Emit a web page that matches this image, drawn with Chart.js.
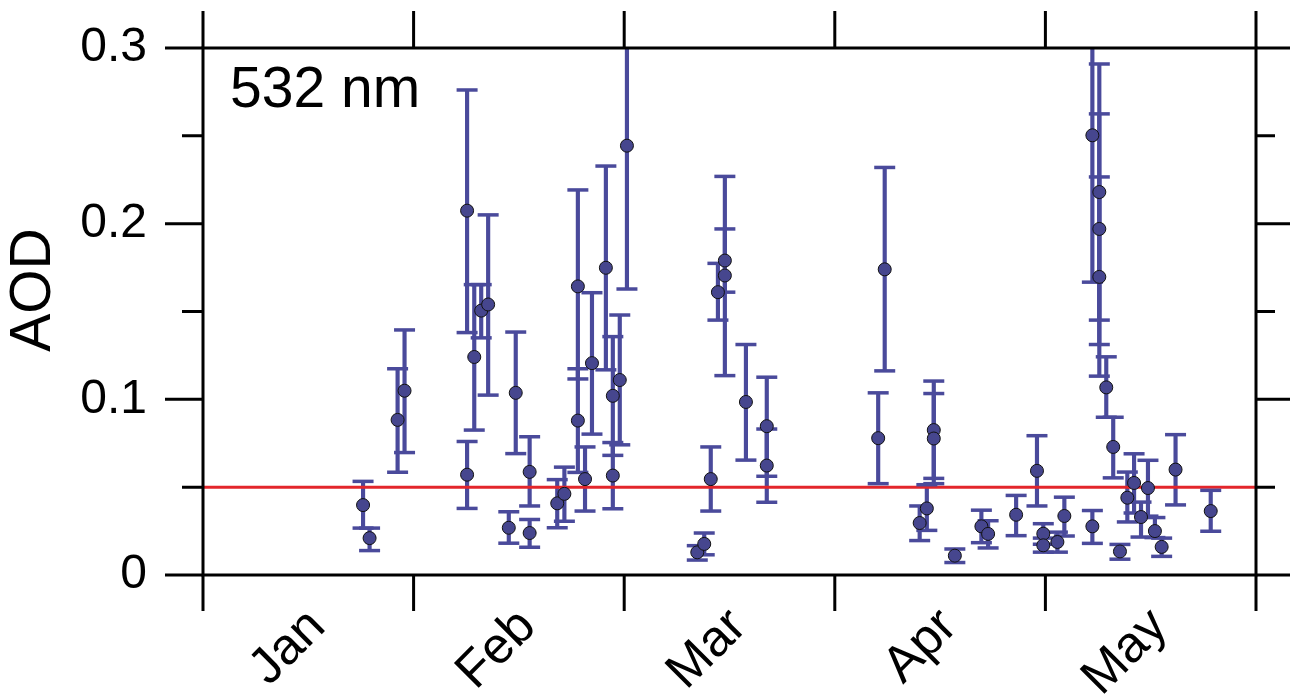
<!DOCTYPE html>
<html>
<head>
<meta charset="utf-8">
<script src="https://cdn.jsdelivr.net/npm/chart.js@4.4.0/dist/chart.umd.min.js"></script>
<style>
  html, body { margin: 0; padding: 0; background: #fff; }
  #wrap { width: 1290px; height: 698px; position: relative; }
</style>
</head>
<body>
<div id="wrap"><canvas id="myChart" width="1290" height="698"></canvas></div>
<script>
// month axis: 0 = start of Jan, 5 = end of May
var monthNames = ['Jan', 'Feb', 'Mar', 'Apr', 'May'];
var monthPos = [0.5, 1.5, 2.5, 3.5, 4.5];
var monthEdges = [0, 1, 2, 3, 4, 5];
var yMajor = [0, 0.1, 0.2, 0.3];
var yMinor = [0.05, 0.15, 0.25];
var refLevel = 0.05;

// observations (time in months, AOD and its error bar ends)
var obsTime = [0.760, 0.791, 0.924, 0.957, 1.254, 1.254, 1.288, 1.321, 1.354, 1.452,
               1.485, 1.551, 1.551, 1.682, 1.716, 1.780, 1.780, 1.814, 1.847, 1.913,
               1.946, 1.946, 1.979, 2.013, 2.347, 2.380, 2.411, 2.445, 2.478, 2.478,
               2.578, 2.677, 2.677, 3.206, 3.237, 3.403, 3.437, 3.470, 3.470, 3.570,
               3.696, 3.728, 3.861, 3.960, 3.990, 3.990, 4.057, 4.090, 4.223, 4.223,
               4.256, 4.256, 4.256, 4.289, 4.322, 4.354, 4.389, 4.421, 4.454, 4.487,
               4.520, 4.552, 4.618, 4.785];
var aod = [0.0398, 0.0210, 0.0883, 0.1049, 0.2074, 0.0571, 0.1241, 0.1505, 0.1540, 0.0269,
           0.1037, 0.0587, 0.0239, 0.0408, 0.0462, 0.1643, 0.0879, 0.0546, 0.1206, 0.1749,
           0.1020, 0.0566, 0.1110, 0.2444, 0.0129, 0.0177, 0.0546, 0.1610, 0.1790, 0.1705,
           0.0985, 0.0847, 0.0623, 0.0779, 0.1740, 0.0296, 0.0379, 0.0825, 0.0777, 0.0110,
           0.0277, 0.0234, 0.0343, 0.0593, 0.0235, 0.0169, 0.0188, 0.0336, 0.0277, 0.2503,
           0.2180, 0.1970, 0.1697, 0.1068, 0.0729, 0.0134, 0.0440, 0.0524, 0.0330, 0.0495,
           0.0250, 0.0160, 0.0600, 0.0364];
var aodLow = [0.0267, 0.0139, 0.0585, 0.0697, 0.1380, 0.0379, 0.0825, 0.1350, 0.1024, 0.0181,
              0.0691, 0.0393, 0.0158, 0.0269, 0.0306, 0.1116, 0.0584, 0.0364, 0.0802, 0.1168,
              0.0681, 0.0377, 0.0741, 0.1628, 0.0085, 0.0115, 0.0364, 0.1451, 0.1610, 0.1135,
              0.0654, 0.0562, 0.0414, 0.0520, 0.1162, 0.0196, 0.0254, 0.0550, 0.0520, 0.0071,
              0.0184, 0.0154, 0.0224, 0.0393, 0.0175, 0.0130, 0.0130, 0.0222, 0.0180, 0.1667,
              0.1451, 0.1312, 0.1132, 0.0898, 0.0553, 0.0090, 0.0302, 0.0353, 0.0216, 0.0335,
              0.0213, 0.0106, 0.0399, 0.0249];
var aodHigh = [0.0533, 0.0267, 0.1174, 0.1395, 0.2761, 0.0760, 0.1653, 0.1653, 0.2050, 0.0360,
               0.1383, 0.0787, 0.0316, 0.0543, 0.0614, 0.2192, 0.1174, 0.0729, 0.1607, 0.2328,
               0.1357, 0.0754, 0.1480, 0.3260, 0.0167, 0.0239, 0.0729, 0.1774, 0.1970, 0.2269,
               0.1312, 0.1126, 0.0831, 0.1037, 0.2320, 0.0393, 0.0514, 0.1104, 0.1033, 0.0148,
               0.0369, 0.0309, 0.0453, 0.0793, 0.0292, 0.0210, 0.0244, 0.0443, 0.0367, 0.3340,
               0.2909, 0.2625, 0.2266, 0.1242, 0.0898, 0.0174, 0.0586, 0.0690, 0.0415, 0.0653,
               0.0327, 0.0210, 0.0799, 0.0482];

var barColor = '#4a4a9b';
var dotColor = '#46468e';
var redColor = '#e3262b';

Chart.defaults.font.family = '"Liberation Sans", Arial, sans-serif';
Chart.defaults.color = '#000';

// box, ticks on all four sides, the "532 nm" tag and the y title
var framePlugin = {
    id: 'frame',
    afterDraw: function (chart) {
        var ctx = chart.ctx;
        var a = chart.chartArea;
        var x = chart.scales.x;
        var y = chart.scales.y;
        ctx.save();
        ctx.strokeStyle = '#000';
        ctx.lineWidth = 3;
        ctx.lineCap = 'butt';
        ctx.strokeRect(a.left, a.top, a.right - a.left, a.bottom - a.top);
        ctx.beginPath();
        monthEdges.forEach(function (v) {
            var px = x.getPixelForValue(v);
            ctx.moveTo(px, a.bottom); ctx.lineTo(px, a.bottom + 36);
            ctx.moveTo(px, a.top); ctx.lineTo(px, a.top - 37);
        });
        yMajor.forEach(function (v) {
            var py = y.getPixelForValue(v);
            ctx.moveTo(a.left - 38, py); ctx.lineTo(a.left, py);
            ctx.moveTo(a.right, py); ctx.lineTo(a.right + 38, py);
        });
        yMinor.forEach(function (v) {
            var py = y.getPixelForValue(v);
            ctx.moveTo(a.left - 21, py); ctx.lineTo(a.left, py);
            ctx.moveTo(a.right, py); ctx.lineTo(a.right + 19, py);
        });
        ctx.stroke();

        ctx.fillStyle = '#000';
        ctx.font = '57px "Liberation Sans", Arial, sans-serif';
        ctx.textAlign = 'left';
        ctx.textBaseline = 'alphabetic';
        ctx.fillText('532 nm', a.left + 27, a.top + 59);

        ctx.translate(34, 290);
        ctx.rotate(-Math.PI / 2);
        ctx.textAlign = 'center';
        ctx.textBaseline = 'middle';
        ctx.font = '57px "Liberation Sans", Arial, sans-serif';
        ctx.fillText('AOD', 0, 0);
        ctx.restore();
    }
};

var ctx = document.getElementById('myChart');
new Chart(ctx, {
    type: 'scatter',
    data: {
        datasets: [{
            type: 'bar',
            data: obsTime.map(function (t, i) { return {x: t, y: [aodLow[i], aodHigh[i]]}; }),
            backgroundColor: barColor,
            borderWidth: 0,
            barThickness: 3.5,
            order: 4
        }, {
            type: 'line',
            data: [{x: monthEdges[0], y: refLevel}, {x: monthEdges[monthEdges.length - 1], y: refLevel}],
            borderColor: redColor,
            borderWidth: 3,
            pointRadius: 0,
            order: 3
        }, {
            type: 'scatter',
            data: obsTime.map(function (t, i) { return {x: t, y: aodLow[i]}; })
                .concat(obsTime.map(function (t, i) { return {x: t, y: aodHigh[i]}; })),
            pointStyle: 'line',
            pointRadius: 10.5,
            pointBorderWidth: 3.5,
            borderColor: barColor,
            backgroundColor: barColor,
            order: 2
        }, {
            type: 'scatter',
            data: obsTime.map(function (t, i) { return {x: t, y: aod[i]}; }),
            pointRadius: 6.5,
            pointBorderWidth: 1,
            backgroundColor: dotColor,
            borderColor: '#111',
            order: 1
        }]
    },
    options: {
        responsive: false,
        animation: false,
        events: [],
        layout: { padding: { top: 48, right: 34, left: 0, bottom: 0 } },
        plugins: { legend: { display: false }, tooltip: { enabled: false } },
        scales: {
            x: {
                type: 'linear',
                min: 0,
                max: 5,
                offset: false,
                grid: { display: false, drawTicks: false },
                border: { display: false },
                afterBuildTicks: function (scale) {
                    scale.ticks = monthPos.map(function (v) { return {value: v}; });
                },
                afterFit: function (scale) {
                    scale.height = 123;
                    scale.paddingLeft = 0;
                    scale.paddingRight = 0;
                },
                ticks: {
                    autoSkip: false,
                    minRotation: 45,
                    maxRotation: 45,
                    padding: 22,
                    labelOffset: 9,
                    font: { size: 51 },
                    callback: function (v) { return monthNames[Math.floor(v)]; }
                }
            },
            y: {
                min: 0,
                max: 0.3,
                grid: { display: false, drawTicks: false },
                border: { display: false },
                afterFit: function (scale) {
                    scale.width = 203;
                    scale.paddingTop = 0;
                    scale.paddingBottom = 0;
                },
                ticks: {
                    stepSize: 0.1,
                    padding: 56,
                    font: { size: 48 },
                    callback: function (v) { return v === 0 ? '0' : (Math.round(v * 10) / 10).toString(); }
                }
            }
        }
    },
    plugins: [framePlugin]
});
</script>
</body>
</html>
